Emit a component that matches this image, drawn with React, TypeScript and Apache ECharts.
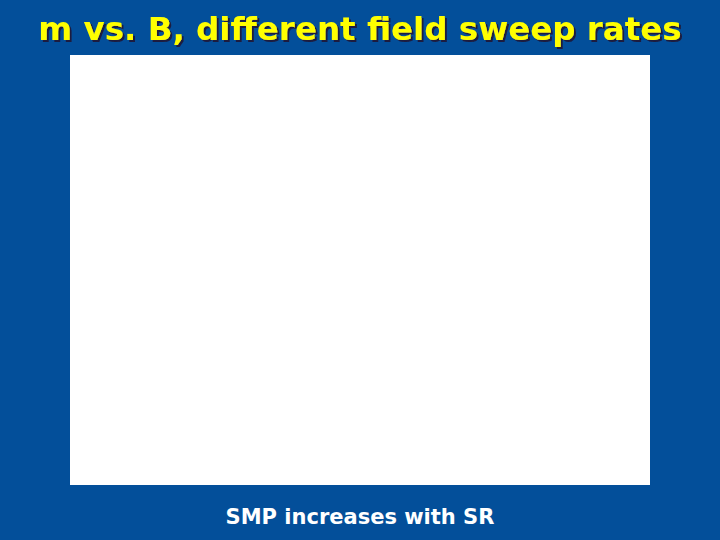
import React, { useEffect, useRef } from 'react';
import * as echarts from 'echarts';

// The plot area in the reference is blank: no series are drawn.
const titleText = 'm vs. B, different field sweep rates';
const captionText = 'SMP increases with SR';
const xValues: number[] = [];
const yValues: number[] = [];

const BG = '#034f9a';

export default function App() {
  const chartRef = useRef<HTMLDivElement>(null);

  useEffect(() => {
    if (!chartRef.current) return;
    const chart = echarts.init(chartRef.current, null, { renderer: 'svg' });

    const option: echarts.EChartsOption = {
      animation: false,
      backgroundColor: BG,
      title: [
        {
          text: titleText,
          left: 'center',
          top: 7,
          textStyle: {
            color: '#ffff00',
            fontSize: 32.5,
            fontWeight: 'bold',
            fontFamily: 'DejaVu Sans',
            textShadowColor: '#1a1a40',
            textShadowOffsetX: 2,
            textShadowOffsetY: 2,
            textShadowBlur: 1,
          },
        },
        {
          text: captionText,
          left: 'center',
          top: 501,
          textStyle: {
            color: '#ffffff',
            fontSize: 21,
            fontWeight: 'bold',
            fontFamily: 'DejaVu Sans',
          },
        },
      ],
      grid: {
        left: 70,
        top: 55,
        width: 580,
        height: 430,
        show: true,
        backgroundColor: '#ffffff',
        borderWidth: 0,
      },
      xAxis: { type: 'value', show: false, min: 0, max: 1 },
      yAxis: { type: 'value', show: false, min: 0, max: 1 },
      series: [
        {
          type: 'line',
          data: xValues.map((x, i) => [x, yValues[i]]),
          showSymbol: false,
        },
      ],
    };

    chart.setOption(option);
    return () => chart.dispose();
  }, []);

  return (
    <div
      ref={chartRef}
      style={{ position: 'fixed', left: 0, top: 0, width: 720, height: 540 }}
    />
  );
}
